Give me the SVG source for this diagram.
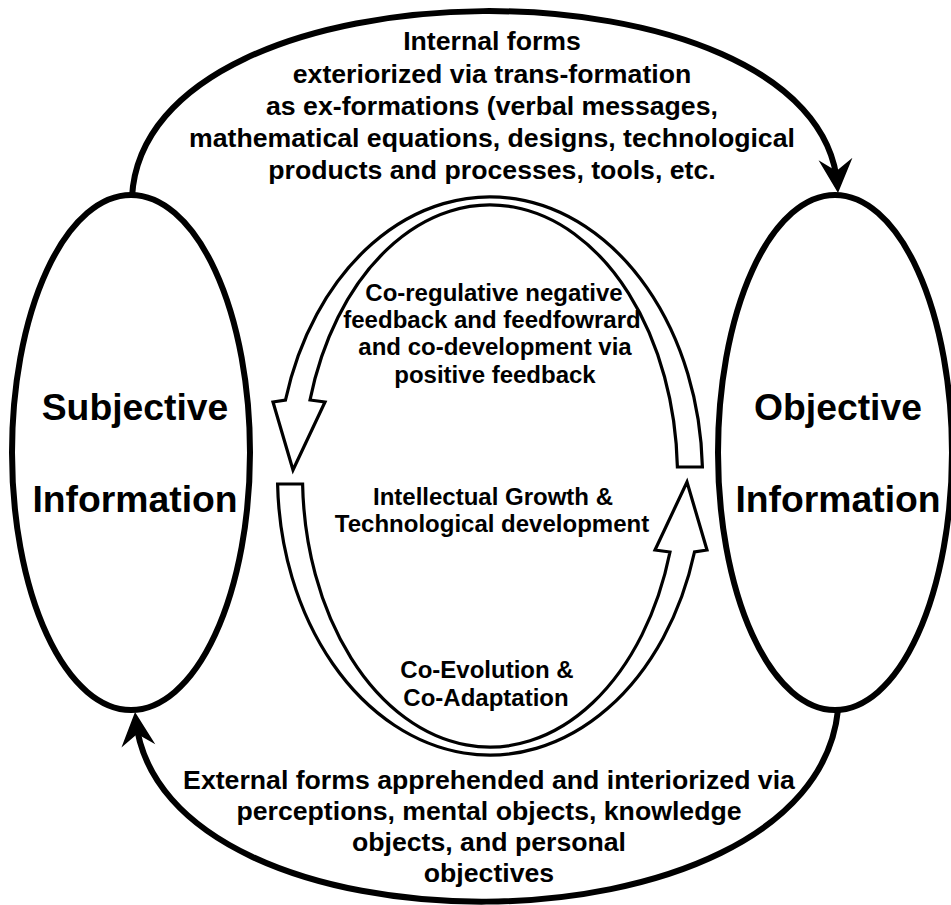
<svg xmlns="http://www.w3.org/2000/svg" width="951" height="905" viewBox="0 0 951 905">
<style>
.big{font-family:"Liberation Sans",Arial,sans-serif;font-weight:bold;font-size:37.3px;text-anchor:middle;fill:#000}
.lbl{font-family:"Liberation Sans",Arial,sans-serif;font-weight:bold;font-size:26.67px;text-anchor:middle;fill:#000}
.in{font-family:"Liberation Sans",Arial,sans-serif;font-weight:bold;font-size:24px;text-anchor:middle;fill:#000}
.node{fill:#fff;stroke:#000;stroke-width:6}
.conn{fill:none;stroke:#000;stroke-width:6}
.blk{fill:#fff;stroke:#000;stroke-width:3.2;stroke-linejoin:miter}
</style>
<defs>
<marker id="ah" viewBox="-32 -20 42 40" refX="0" refY="0" markerWidth="42" markerHeight="40" markerUnits="userSpaceOnUse" orient="auto">
<path d="M7,0 L-27,-17 L-15,0 L-27,17 Z" fill="#000"/>
</marker>
</defs>
<rect width="951" height="905" fill="#fff"/>
<g id="connectors">
<path class="conn" d="M132,197 C145,-49 820,-49 837.5,186" marker-end="url(#ah)"/>
<path class="conn" d="M838,710 C812,964 160,964 135.7,719" marker-end="url(#ah)"/>
</g>
<g id="label-top">
<text class="lbl" x="492" y="50">Internal forms</text>
<text class="lbl" x="492" y="83">exteriorized via trans-formation</text>
<text class="lbl" x="492" y="115">as ex-formations (verbal messages,</text>
<text class="lbl" x="492" y="147">mathematical equations, designs, technological</text>
<text class="lbl" x="492" y="179">products and processes, tools, etc.</text>
</g>
<g id="label-bottom">
<text class="lbl" x="489" y="789">External forms apprehended and interiorized via</text>
<text class="lbl" x="489" y="820">perceptions, mental objects, knowledge</text>
<text class="lbl" x="489" y="851">objects, and personal</text>
<text class="lbl" x="489" y="882">objectives</text>
</g>
<g id="subjective">
<ellipse class="node" cx="131" cy="452.5" rx="119" ry="257.5"/>
<text class="big" x="135" y="420">Subjective</text>
<text class="big" x="135" y="512">Information</text>
</g>
<g id="objective">
<ellipse class="node" cx="835" cy="452.5" rx="117" ry="257.5"/>
<text class="big" x="838" y="420">Objective</text>
<text class="big" x="838" y="512">Information</text>
</g>
<g id="feedback-arrow">
<path class="blk" d="M702.4,467 A212.5,279 0 0 0 285.5,400 L273,402 L293,470 L325,402 L310,400 A187.5,271 0 0 1 677.4,467 Z"/>
<text class="in" x="494" y="301">Co-regulative negative</text>
<text class="in" x="492" y="328">feedback and feedfowrard</text>
<text class="in" x="495" y="355">and co-development via</text>
<text class="in" x="495" y="383">positive feedback</text>
</g>
<g id="growth-arrow">
<path class="blk" d="M277.6,484 A212.5,279 0 0 0 694.5,552 L707,550 L687,482 L655,550 L670,552 A187.5,271 0 0 1 302.6,484 Z"/>
<text class="in" x="487" y="678">Co-Evolution &amp;</text>
<text class="in" x="486" y="706">Co-Adaptation</text>
</g>
<g id="center-label">
<text class="in" x="493" y="505">Intellectual Growth &amp;</text>
<text class="in" x="492" y="532">Technological development</text>
</g>
</svg>
